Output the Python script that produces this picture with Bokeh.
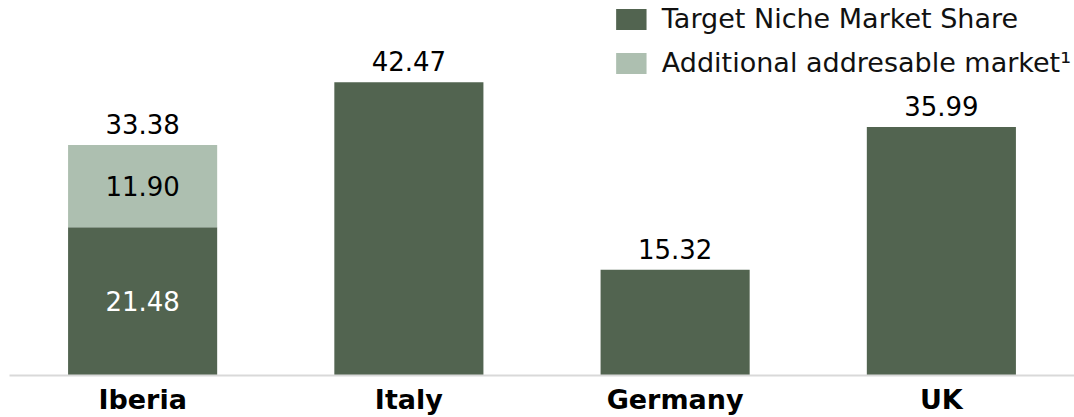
from bokeh.plotting import figure
from bokeh.models import ColumnDataSource, Legend, LegendItem, FactorRange, LabelSet
from bokeh.core.properties import value
from bokeh.embed import file_html
from bokeh.resources import INLINE

countries = ["Iberia", "Italy", "Germany", "UK"]
target_share = [21.48, 42.47, 15.32, 35.99]
additional = [11.90, 0.0, 0.0, 0.0]
totals = [33.38, 42.47, 15.32, 35.99]
inner_dark_labels = ["21.48", "", "", ""]
inner_light_labels = ["11.90", "", "", ""]
total_labels = ["33.38", "42.47", "15.32", "35.99"]

DARK = "#526450"
LIGHT = "#adbfb0"
FONT = "DejaVu Sans"

src = ColumnDataSource(dict(
    country=countries,
    target=target_share,
    additional=additional,
    total=totals,
    dark_mid=[t / 2 for t in target_share],
    light_mid=[t + a / 2 for t, a in zip(target_share, additional)],
    dark_lbl=inner_dark_labels,
    light_lbl=inner_light_labels,
    total_lbl=total_labels,
))

p = figure(width=1074, height=417, x_range=FactorRange(*countries, range_padding=0),
           y_range=(0, 54.3), output_backend="svg", toolbar_location=None,
           min_border_left=9, min_border_right=0, min_border_top=0, min_border_bottom=41)

r = p.vbar_stack(["target", "additional"], x="country", width=0.56, source=src,
                 color=[DARK, LIGHT], line_color=None)

p.add_layout(LabelSet(x="country", y="dark_mid", text="dark_lbl", source=src,
                      text_align="center", text_baseline="middle", text_color="white",
                      text_font=value(FONT), text_font_size="26px"))
p.add_layout(LabelSet(x="country", y="light_mid", text="light_lbl", source=src,
                      text_align="center", text_baseline="middle", text_color="black",
                      text_font=value(FONT), text_font_size="26px"))
p.add_layout(LabelSet(x="country", y="total", text="total_lbl", source=src,
                      text_align="center", text_baseline="bottom", text_color="black",
                      y_offset=11, text_font=value(FONT), text_font_size="26px"))

legend = Legend(items=[LegendItem(label="Target Niche Market Share", renderers=[r[0]]),
                       LegendItem(label="Additional addresable market\u00b9", renderers=[r[1]])],
                location="top_right", margin=3, padding=5, glyph_width=38, glyph_height=26,
                label_height=26, spacing=13, label_standoff=12,
                label_text_font=FONT, label_text_font_size="27px", label_text_color="#111111",
                border_line_color=None, background_fill_alpha=0)
p.add_layout(legend)

p.yaxis.visible = False
p.xgrid.grid_line_color = None
p.ygrid.grid_line_color = None
p.outline_line_color = None
p.xaxis.axis_line_color = "#d9d9d9"
p.xaxis.axis_line_width = 2
p.xaxis.major_tick_line_color = None
p.xaxis.minor_tick_line_color = None
p.xaxis.major_label_text_font = FONT
p.xaxis.major_label_text_font_style = "bold"
p.xaxis.major_label_text_font_size = "27px"
p.xaxis.major_label_text_color = "black"
p.xaxis.major_label_standoff = 2

open("out.html", "w").write(file_html(p, INLINE))
